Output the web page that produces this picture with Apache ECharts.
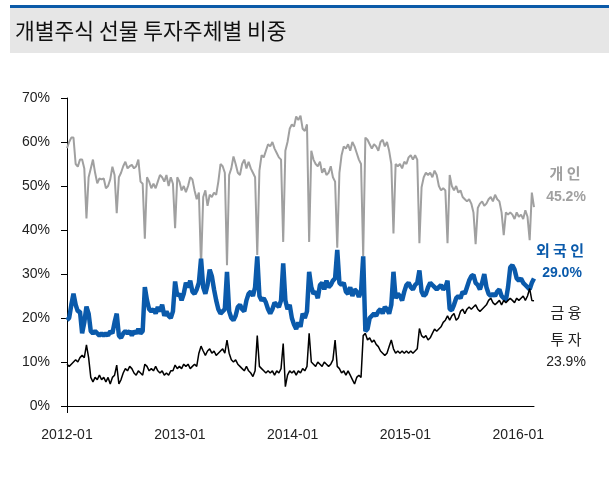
<!DOCTYPE html>
<html>
<head>
<meta charset="utf-8">
<script src="https://cdn.jsdelivr.net/npm/echarts@6/dist/echarts.min.js"></script>
<style>
  html, body { margin: 0; padding: 0; background: #fff; }
  #chart { width: 609px; height: 484px; }
</style>
</head>
<body>
<div id="chart"></div>
<script>
// weekly samples, week 0 = first week of 2012-01
const firstYear = 2012
const weeksPerYear = 52.18

// 개인
const individual = [
  58.6, 60, 61, 61, 55, 54.4, 56, 56, 54, 42.6,
  52, 54, 56, 53, 50.6, 51.7, 51.5, 51.7, 49.5, 50,
  51.5, 54.4, 52.5, 43.8, 52, 53, 54.5, 55.5, 54, 54.5,
  54.8, 54, 54.5, 56, 51, 50.5, 38, 52, 51, 49.5,
  50.5, 49.5, 51, 52.5, 52, 51, 52.5, 50, 52, 50.5,
  40.4, 52, 51, 49, 50, 48.6, 50, 52, 51.5, 49,
  47, 48.5, 31.7, 47.5, 49, 45.5, 48, 47.5, 48.5, 48,
  51, 55, 54.5, 53, 32, 52.5, 54, 56.7, 55, 53,
  52.5, 55, 56, 54, 55.5, 54, 53, 52, 34.3, 53.5,
  57, 56.5, 58, 59.5, 59, 60, 58.5, 57.5, 56.5, 56,
  37.3, 58, 60, 63, 64, 63.5, 65.8, 65, 66, 63,
  62.5, 64, 37.3, 58, 56, 55, 54.5, 55.5, 53, 54,
  52.5, 53, 54.5, 52, 51, 36, 53, 57, 59, 58.5,
  59.5, 58, 60, 59, 57.5, 56, 55, 34, 61, 60.5,
  59.5, 58.5, 59.5, 59, 58, 60, 60.5, 59, 60, 58,
  55, 39.2, 55, 54.5, 55, 54, 55.5, 55, 56.5, 57,
  56, 57, 56, 37, 49.7, 52, 53, 52.5, 53, 52,
  53.5, 52.5, 50, 49, 49.5, 49, 37, 52.5, 50, 49,
  50, 48.5, 49, 47.5, 47, 46.5, 47, 46, 44, 36.8,
  45, 46, 46.5, 45.5, 46, 47, 47.5, 46.5, 48, 47,
  46.5, 44, 38.8, 44, 43.5, 44, 43.5, 42.5, 44, 43,
  43.5, 42.5, 44.5, 43, 37.7, 48.5, 45.2
]

// 외국인
const foreign = [
  19.5, 20, 23, 25.5, 23, 21.5, 21.5, 16.5, 19, 22.6,
  21, 17, 16.5, 17, 16.5, 16, 16.5, 16, 16.5, 16,
  17, 16.5, 19, 21, 16, 15.5, 16.5, 17, 16.5, 17,
  16, 17, 16.5, 17.5, 16.5, 17, 27, 24, 22, 21.5,
  22, 21, 22.5, 21.5, 23, 20.5, 21.5, 20.5, 20, 21.5,
  28.3, 25, 25.5, 24, 25.5, 28, 27, 28.5, 26, 25.5,
  26.5, 28, 33.5, 27, 25.5, 27.5, 31, 29.5, 26.5, 24,
  22, 21, 21.5, 22, 30.5, 21.5, 20, 19.5, 20.5, 22.5,
  23, 22, 21.5, 24, 25.5, 26, 25, 27, 34, 25,
  24, 24.5, 23.5, 22, 21, 22, 23.5, 23, 22.5, 24,
  32.4, 24, 22, 23, 20, 18.5, 17.5, 19, 18, 21,
  20, 21.5, 30.5, 27, 25.5, 26, 24.5, 27.5, 28, 26.5,
  28.5, 27, 27.5, 28.5, 29, 35.5, 28, 27.5, 28, 26,
  25.5, 27, 25, 26.5, 26, 24.8, 26, 34, 17, 17.5,
  20, 20.5, 21, 20.5, 21.5, 22, 21, 22.5, 22, 21,
  23, 30.5, 24.5, 25.5, 25, 24, 26, 27.5, 28, 27,
  26.5, 27.5, 28, 30.8, 26, 25, 25.5, 27, 28, 27.5,
  27, 26.5, 27, 27.5, 26.5, 27, 28.5, 22, 21.8, 23,
  24.5, 25, 24.5, 26, 25.5, 27, 28.5, 29.5, 29.8, 28,
  27.5, 26.5, 28, 30, 27, 25.5, 25, 25.5, 25, 26,
  26.5, 25, 24.5, 24, 27, 31.5, 32, 31, 29, 28.5,
  29, 28, 27.5, 27, 26.5, 28, 29
]

// 금융투자
const finInvest = [
  9.5, 9, 9.5, 10, 10.5, 10, 11, 11.5, 11, 13.9,
  11, 6.5, 5.5, 6.5, 6, 7, 6, 6.5, 5.5, 6.5,
  5, 6.5, 7, 9.3, 5, 6, 7.5, 8.5, 8, 9,
  8.5, 7.5, 7, 8, 7.5, 7, 9.5, 9, 8, 8.5,
  8, 9, 8, 7.5, 8, 7, 7.5, 7, 8, 8,
  9.3, 8.5, 9, 8.5, 9.5, 9, 9.5, 8.5, 9, 9.5,
  9, 12, 13.6, 12.5, 11.5, 12.5, 13, 12, 12.5, 11.5,
  12, 12.5, 13, 12, 15, 12, 10.5, 10, 10.5, 9.5,
  9, 8.5, 8, 9, 8, 7.5, 6.7, 8, 16, 9,
  8.5, 8, 7.5, 8, 7.5, 8, 7, 8, 7.5, 8.5,
  14.2, 4.4, 7, 8, 7.5, 8, 7, 8, 7.5, 8.5,
  8, 9, 16.5, 10, 9.5, 9, 10, 9.5, 9, 10,
  9.5, 9, 9.5, 10.5, 15, 9, 8.5, 7.5, 8, 7,
  8, 7, 6, 5, 6.5, 7, 6.5, 16, 16.5, 15,
  15.5, 14.5, 15, 14, 13.5, 12.5, 12, 11.5, 12, 13.5,
  15, 13, 12, 12.5, 12, 12.5, 12, 12.5, 12, 12.5,
  12, 12.5, 13, 17.6, 16, 15.5, 16, 15, 15.5, 16.5,
  17.5, 17, 17.5, 18, 19, 19.5, 20.5, 19.5, 20.5, 21,
  19.5, 20, 21.5, 22, 21, 22, 22.5, 22, 22.5, 23,
  22, 21.5, 22, 22.5, 23, 24, 24.5, 23.5, 23, 23.5,
  24, 23, 24, 23.5, 24, 24.5, 24, 23.5, 24.5, 24,
  24.5, 25, 24, 25, 26.7, 24, 23.9
]

const GRAY = '#a0a0a0'
const BLUE = '#0a5aab'
const BLACK = '#000000'
const latinFont = '"Liberation Sans", Arial, sans-serif'
const krFont = '"Noto Sans CJK KR", sans-serif'

const chart = echarts.init(document.getElementById('chart'))

function toPoints(arr) {
  return arr.map((v, i) => [i, v])
}

chart.setOption({
  animation: false,
  grid: { left: 67, right: 75, top: 98, bottom: 78 },
  xAxis: {
    type: 'value',
    min: 0,
    max: individual.length - 1,
    interval: weeksPerYear,
    axisLine: { lineStyle: { color: '#000', width: 1 } },
    axisTick: { show: true, customValues: [0], length: 7, lineStyle: { color: '#000' } },
    axisLabel: {
      showMaxLabel: false,
      margin: 22,
      color: '#222',
      fontSize: 14,
      fontFamily: latinFont,
      formatter: v => (firstYear + Math.round(v / weeksPerYear)) + '-01',
    },
    splitLine: { show: false },
  },
  yAxis: {
    type: 'value',
    min: 0,
    max: 70,
    interval: 10,
    axisLine: { show: true, lineStyle: { color: '#000', width: 1 } },
    axisTick: { show: true, length: 6, lineStyle: { color: '#000' } },
    axisLabel: { formatter: '{value}%', margin: 17, color: '#222', fontSize: 14, fontFamily: latinFont },
    splitLine: { show: false },
  },
  series: [
    {
      name: '개인', type: 'line', data: toPoints(individual), showSymbol: false,
      lineStyle: { color: GRAY, width: 2 }, z: 2,
    },
    {
      name: '외국인', type: 'line', data: toPoints(foreign), showSymbol: false,
      lineStyle: { color: BLUE, width: 4.5 }, z: 3,
    },
    {
      name: '금융투자', type: 'line', data: toPoints(finInvest), showSymbol: false,
      lineStyle: { color: BLACK, width: 1.5 }, z: 4,
    },
  ],
  graphic: [
    { type: 'rect', shape: { x: 10, y: 8, width: 599, height: 45 }, style: { fill: '#e6e6e6' } },
    { type: 'rect', shape: { x: 10, y: 5, width: 599, height: 3 }, style: { fill: '#0b5aa8' } },
    {
      type: 'text', x: 15, y: 31,
      style: { text: '개별주식 선물 투자주체별 비중', font: '21.5px ' + krFont, fill: '#111', verticalAlign: 'middle' },
    },
    { type: 'text', x: 565, y: 173, style: { text: '개 인', font: 'bold 15px ' + krFont, fill: GRAY, align: 'center', verticalAlign: 'middle' } },
    { type: 'text', x: 566, y: 197, style: { text: '45.2%', font: 'bold 14px ' + latinFont, fill: GRAY, align: 'center', verticalAlign: 'middle' } },
    { type: 'text', x: 560, y: 250, style: { text: '외 국 인', font: 'bold 15px ' + krFont, fill: BLUE, align: 'center', verticalAlign: 'middle' } },
    { type: 'text', x: 562, y: 273, style: { text: '29.0%', font: 'bold 14px ' + latinFont, fill: BLUE, align: 'center', verticalAlign: 'middle' } },
    { type: 'text', x: 566, y: 312, style: { text: '금 융', font: '15px ' + krFont, fill: '#222', align: 'center', verticalAlign: 'middle' } },
    { type: 'text', x: 566, y: 339, style: { text: '투 자', font: '15px ' + krFont, fill: '#222', align: 'center', verticalAlign: 'middle' } },
    { type: 'text', x: 566, y: 362, style: { text: '23.9%', font: '14px ' + latinFont, fill: '#222', align: 'center', verticalAlign: 'middle' } },
  ],
})
</script>
</body>
</html>
